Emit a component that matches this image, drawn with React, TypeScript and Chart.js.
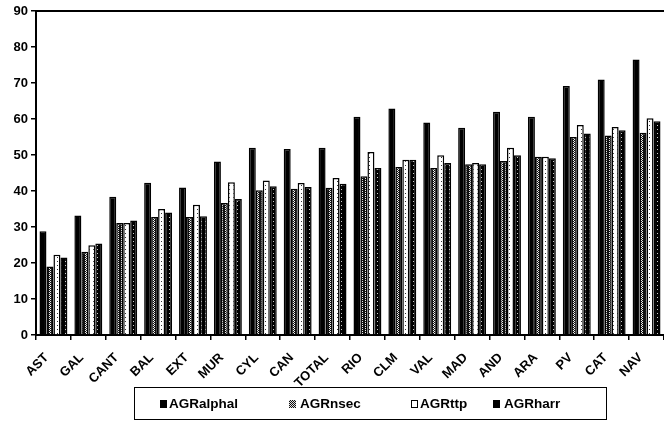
import React, { useEffect, useRef, useState } from "react";
import { Chart, registerables } from "chart.js";

Chart.register(...registerables);

const categories = ["AST", "GAL", "CANT", "BAL", "EXT", "MUR", "CYL", "CAN", "TOTAL", "RIO", "CLM", "VAL", "MAD", "AND", "ARA", "PV", "CAT", "NAV"];
const agrAlphal = [28.8, 33.2, 38.4, 42.3, 41.0, 48.2, 52.0, 51.7, 52.0, 60.6, 62.9, 59.0, 57.6, 62.0, 60.6, 69.2, 71.0, 76.5];
const agrNsec = [19.0, 23.1, 31.1, 32.8, 32.8, 36.7, 40.2, 40.6, 40.9, 44.1, 46.7, 46.4, 47.4, 48.3, 49.5, 55.0, 55.4, 56.2];
const agrTtp = [22.3, 24.9, 31.1, 35.0, 36.2, 42.4, 42.9, 42.2, 43.6, 50.8, 48.7, 49.9, 47.8, 52.0, 49.5, 58.3, 57.8, 60.2];
const agrHarr = [21.5, 25.4, 31.8, 34.0, 33.0, 37.8, 41.3, 41.1, 42.0, 46.4, 48.7, 47.8, 47.4, 49.9, 49.1, 56.0, 56.9, 59.4];
const seriesNames = ["AGRalphal", "AGRnsec", "AGRttp", "AGRharr"];
const yTicks = [0, 10, 20, 30, 40, 50, 60, 70, 80, 90];

const FONT = "Liberation Sans, Arial";

function makePattern(kind: string): CanvasPattern | string {
  const c = document.createElement("canvas");
  const ctx = c.getContext("2d")!;
  c.width = 4; c.height = 4;
  if (kind === "nsec") {
    ctx.fillStyle = "#111"; ctx.fillRect(0, 0, 4, 4);
    ctx.fillStyle = "#eee";
    [[1, 0], [2, 1], [1, 2], [2, 3]].forEach(([x, y]) => ctx.fillRect(x, y, 1, 1));
  } else if (kind === "ttp") {
    ctx.fillStyle = "#fff"; ctx.fillRect(0, 0, 4, 4);
    ctx.fillStyle = "#333";
    ctx.fillRect(1, 1, 1, 1);
  } else {
    ctx.fillStyle = "#000"; ctx.fillRect(0, 0, 4, 4);
    ctx.fillStyle = "#ccc";
    ctx.fillRect(1, 1, 1, 1);
  }
  const p = ctx.createPattern(c, "repeat");
  return p || "#555";
}

const topLine = {
  id: "topLine",
  afterDraw(chart: any) {
    const { ctx, chartArea } = chart;
    ctx.save();
    ctx.strokeStyle = "#000";
    ctx.lineWidth = 2;
    ctx.beginPath();
    ctx.moveTo(chartArea.left, chartArea.top);
    ctx.lineTo(chartArea.right, chartArea.top);
    ctx.stroke();
    ctx.restore();
  },
};

export default function App() {
  const ref = useRef<HTMLCanvasElement>(null);
  const [labelPos, setLabelPos] = useState<{ x: number; y: number }[]>([]);
  useEffect(() => {
    document.body.style.margin = "0";
    const fills = ["#000", makePattern("nsec"), makePattern("ttp"), makePattern("harr")];
    const values = [agrAlphal, agrNsec, agrTtp, agrHarr];
    const chart = new Chart(ref.current!, {
      type: "bar",
      data: {
        labels: categories,
        datasets: seriesNames.map((n, i) => ({
          label: n,
          data: values[i],
          backgroundColor: fills[i] as any,
          borderColor: "#000",
          borderWidth: 1.5,
          categoryPercentage: 0.8,
          barPercentage: 1.0,
        })),
      },
      options: {
        responsive: false,
        animation: false,
        layout: { padding: { top: 11, left: 0, right: 0, bottom: 0 } },
        plugins: { legend: { display: false }, tooltip: { enabled: false } },
        scales: {
          x: {
            grid: { drawOnChartArea: false, drawTicks: true, tickLength: 5, color: "#000", lineWidth: 1.5 },
            border: { color: "#000", width: 2 },
            ticks: { display: false, autoSkip: false },
            afterFit(scale: any) { scale.height = 52; },
          },
          y: {
            min: 0,
            max: 90,
            afterBuildTicks(scale: any) { scale.ticks = yTicks.map((v) => ({ value: v })); },
            grid: { drawOnChartArea: false, drawTicks: true, tickLength: 5, color: "#000", lineWidth: 1.5 },
            border: { color: "#000", width: 2 },
            ticks: {
              color: "#000",
              font: { family: FONT, weight: "bold", size: 13 },
              padding: 3,
            },
            afterFit(scale: any) { scale.width = 36; },
          },
        },
      },
      plugins: [topLine],
    });
    const xs: any = chart.scales.x;
    setLabelPos(categories.map((_, i) => ({ x: xs.getPixelForValue(i) - 7, y: xs.top + 20 })));
    return () => chart.destroy();
  }, []);

  const sq = (bg: string, extra: React.CSSProperties = {}) => (
    <span style={{ display: "inline-block", width: 7, height: 8, background: bg, marginRight: 2, boxSizing: "border-box", ...extra }} />
  );
  const itemStyle: React.CSSProperties = { position: "absolute", top: 0, height: "100%", display: "flex", alignItems: "center", fontFamily: FONT, fontWeight: "bold", fontSize: 13.5, color: "#000", whiteSpace: "nowrap" };

  return (
    <div style={{ width: 664, height: 421, background: "#fff" }}>
      <div style={{ position: "relative", width: 664, height: 387 }}>
        <canvas ref={ref} width={664} height={387} style={{ display: "block" }} />
        {labelPos.map((p, i) => (
          <div key={categories[i]} style={{ position: "absolute", left: p.x, top: p.y, width: 0, height: 0, transform: "rotate(-45deg)", transformOrigin: "0 0" }}>
            <span style={{ position: "absolute", right: 0, top: 0, transform: "translateY(-50%)", whiteSpace: "nowrap", fontFamily: FONT, fontWeight: "bold", fontSize: 13, lineHeight: "15px", color: "#000" }}>
              {categories[i]}
            </span>
          </div>
        ))}
      </div>
      <div style={{ position: "relative", marginLeft: 134, width: 473, height: 33, border: "1.5px solid #000", boxSizing: "border-box", background: "#fff" }}>
        <div style={{ ...itemStyle, left: 25 }}>{sq("#000")}{seriesNames[0]}</div>
        <div style={{ ...itemStyle, left: 154 }}>{sq("repeating-conic-gradient(#111 0% 25%, #ddd 0% 50%) 0 0 / 2px 2px", { marginRight: 4 })}{seriesNames[1]}</div>
        <div style={{ ...itemStyle, left: 276 }}>{sq("#fff", { border: "1.5px solid #000" })}{seriesNames[2]}</div>
        <div style={{ ...itemStyle, left: 358 }}>{sq("#000", { marginRight: 4 })}{seriesNames[3]}</div>
      </div>
    </div>
  );
}
